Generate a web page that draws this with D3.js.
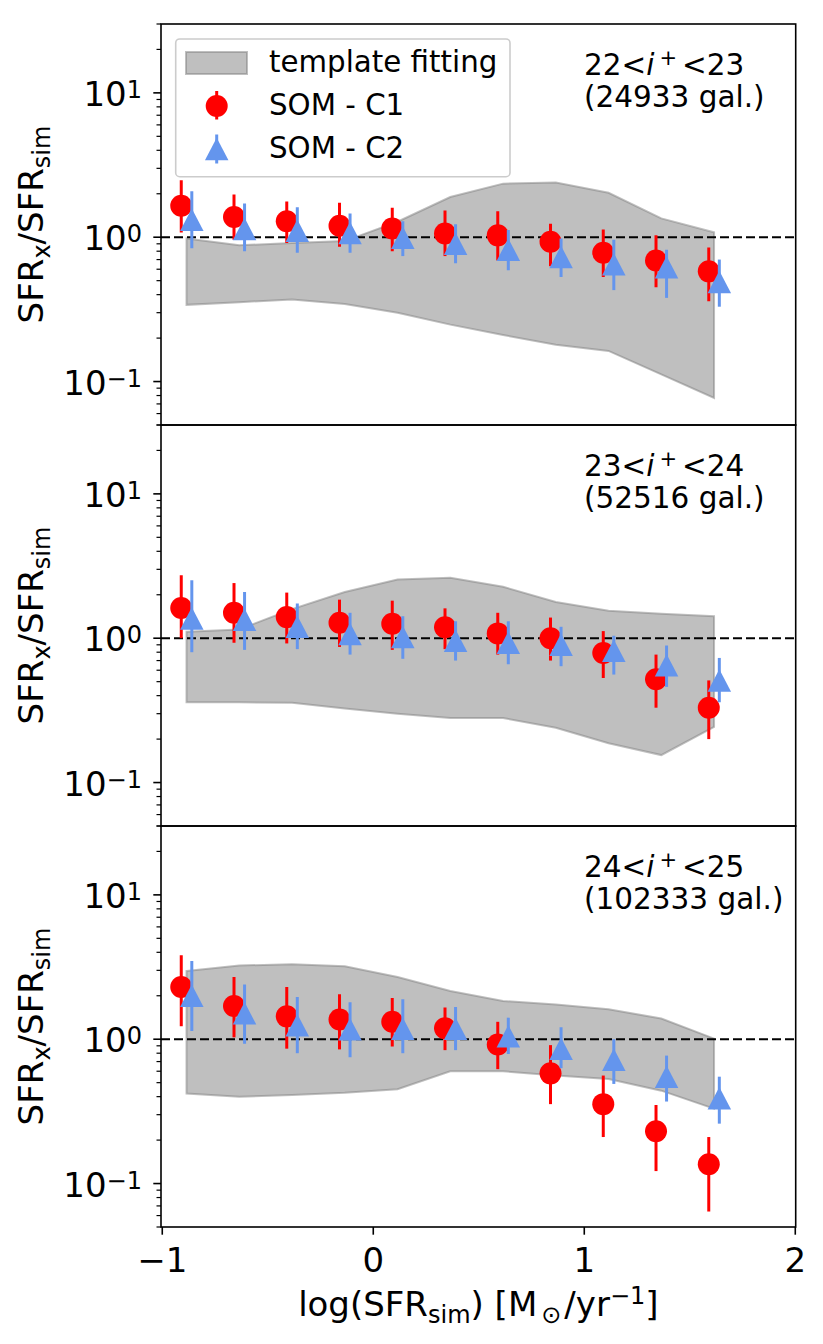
<!DOCTYPE html>
<html>
<head>
<meta charset="utf-8">
<script src="https://cdn.jsdelivr.net/npm/d3@7"></script>
<style>
  html, body { margin: 0; padding: 0; background: #fff; }
  svg { display: block; font-family: "DejaVu Sans", sans-serif; }
</style>
</head>
<body>
<svg id="chart" width="823" height="1344"></svg>
<script>
// ---------------- DATA ----------------
const magLo = [22, 23, 24];
const magHi = [23, 24, 25];
const galCounts = ["(24933 gal.)", "(52516 gal.)", "(102333 gal.)"];

const xC1   = [-0.91, -0.66, -0.41, -0.16, 0.09, 0.34, 0.59, 0.84, 1.09, 1.34, 1.59];
const xC2   = [-0.86, -0.61, -0.36, -0.11, 0.14, 0.39, 0.64, 0.89, 1.14, 1.39, 1.64];
const xBand = [-0.885, -0.635, -0.385, -0.135, 0.115, 0.365, 0.615, 0.865, 1.115, 1.365, 1.615];

// SOM - C1 (per panel): median, lower and upper error
const c1Mid = [
  [1.65, 1.38, 1.29, 1.20, 1.15, 1.06, 1.03, 0.93, 0.78, 0.69, 0.58],
  [1.62, 1.50, 1.40, 1.28, 1.26, 1.19, 1.08, 1.00, 0.79, 0.52, 0.33],
  [2.30, 1.70, 1.44, 1.37, 1.32, 1.19, 0.92, 0.58, 0.355, 0.23, 0.136]
];
const c1Lo = [
  [1.08, 0.96, 0.91, 0.86, 0.80, 0.74, 0.69, 0.63, 0.53, 0.45, 0.36],
  [1.00, 0.93, 0.92, 0.87, 0.83, 0.84, 0.77, 0.70, 0.53, 0.33, 0.20],
  [1.23, 1.03, 0.86, 0.85, 0.89, 0.84, 0.62, 0.355, 0.21, 0.122, 0.064]
];
const c1Hi = [
  [2.48, 1.98, 1.77, 1.73, 1.60, 1.53, 1.51, 1.24, 1.13, 1.03, 0.85],
  [2.73, 2.41, 2.07, 1.85, 1.82, 1.61, 1.50, 1.39, 1.12, 0.77, 0.51],
  [3.82, 2.70, 2.30, 2.05, 1.93, 1.66, 1.32, 0.91, 0.56, 0.35, 0.21]
];

// SOM - C2
const c2Mid = [
  [1.32, 1.14, 1.11, 1.07, 0.99, 0.90, 0.82, 0.73, 0.65, 0.62, 0.49],
  [1.37, 1.34, 1.20, 1.07, 1.02, 0.96, 0.93, 0.90, 0.82, 0.65, 0.51],
  [2.00, 1.51, 1.25, 1.17, 1.18, 1.18, 1.05, 0.86, 0.72, 0.55, 0.39]
];
const c2Lo = [
  [0.84, 0.80, 0.78, 0.78, 0.74, 0.66, 0.59, 0.53, 0.43, 0.38, 0.33],
  [0.80, 0.83, 0.84, 0.77, 0.72, 0.70, 0.66, 0.64, 0.56, 0.46, 0.36],
  [1.14, 0.93, 0.80, 0.75, 0.80, 0.84, 0.79, 0.63, 0.49, 0.37, 0.26]
];
const c2Hi = [
  [2.08, 1.71, 1.61, 1.46, 1.29, 1.23, 1.12, 0.98, 0.96, 0.82, 0.70],
  [2.52, 2.09, 1.74, 1.50, 1.42, 1.31, 1.31, 1.20, 1.04, 0.89, 0.73],
  [3.48, 2.39, 1.96, 1.80, 1.89, 1.67, 1.41, 1.21, 1.00, 0.77, 0.55]
];

// template fitting band
const bandUpper = [
  [0.98, 0.88, 0.91, 0.94, 1.28, 1.90, 2.35, 2.39, 2.03, 1.35, 1.08],
  [1.11, 1.15, 1.59, 2.09, 2.55, 2.62, 2.27, 1.78, 1.55, 1.48, 1.42],
  [2.97, 3.24, 3.31, 3.20, 2.70, 2.16, 1.84, 1.74, 1.61, 1.39, 1.01]
];
const bandLower = [
  [0.34, 0.355, 0.37, 0.345, 0.30, 0.248, 0.21, 0.18, 0.163, 0.112, 0.077],
  [0.36, 0.36, 0.357, 0.326, 0.30, 0.28, 0.28, 0.24, 0.187, 0.155, 0.243],
  [0.42, 0.40, 0.41, 0.425, 0.45, 0.60, 0.60, 0.56, 0.53, 0.44, 0.33]
];

const xTicks = [-1, 0, 1, 2];
const xTickLabels = ["\u22121", "0", "1", "2"];
const yMajorTicks = [0.1, 1, 10];
const yMajorExp = ["\u22121", "0", "1"];
const yMinorTicks = [0.05, 0.06, 0.07, 0.08, 0.09, 0.2, 0.3, 0.4, 0.5, 0.6, 0.7, 0.8, 0.9,
                     2, 3, 4, 5, 6, 7, 8, 9, 20, 30];
const yDomain = [0.05, 30];
const xDomain = [-1.006, 2.002];
const legendLabels = ["template fitting", "SOM - C1", "SOM - C2"];

// ---------------- LAYOUT ----------------
const svg = d3.select("#chart");
const left = 161, right = 795.7;
const panelTop = [24, 425, 826];
const panelH = 401;
const RED = "#ff0000", BLUE = "#6495ed", GRAY = "#808080";
const FS_TICK = 34, FS_LAB = 34, FS_ANN = 29.5, FS_LEG = 29.3;

const x = d3.scaleLinear().domain(xDomain).range([left, right]);

function triPath(w, h) {
  return `M0,${-h / 2}L${w / 2},${h / 2}L${-w / 2},${h / 2}Z`;
}

panelTop.forEach((top, p) => {
  const y = d3.scaleLog().domain(yDomain).range([top + panelH, top]);
  const g = svg.append("g");
  const clipId = "clip" + p;
  svg.append("clipPath").attr("id", clipId)
    .append("rect").attr("x", left).attr("y", top).attr("width", right - left).attr("height", panelH);
  const plot = g.append("g").attr("clip-path", `url(#${clipId})`);

  // band
  const bandData = xBand.map((xv, i) => ({ x: xv, lo: bandLower[p][i], hi: bandUpper[p][i] }));
  const area = d3.area().x(d => x(d.x)).y0(d => y(d.lo)).y1(d => y(d.hi));
  plot.append("path").attr("d", area(bandData))
    .attr("fill", GRAY).attr("fill-opacity", 0.5)
    .attr("stroke", GRAY).attr("stroke-opacity", 0.5).attr("stroke-width", 2);

  // dashed unity line
  plot.append("line")
    .attr("x1", left).attr("x2", right).attr("y1", y(1)).attr("y2", y(1))
    .attr("stroke", "#000").attr("stroke-width", 2).attr("stroke-dasharray", "9,4");

  // C1
  const c1 = xC1.map((xv, i) => ({ x: xv, m: c1Mid[p][i], lo: c1Lo[p][i], hi: c1Hi[p][i] }));
  plot.selectAll(".e1").data(c1).enter().append("line")
    .attr("x1", d => x(d.x)).attr("x2", d => x(d.x))
    .attr("y1", d => y(d.lo)).attr("y2", d => y(d.hi))
    .attr("stroke", RED).attr("stroke-width", 3);
  plot.selectAll(".m1").data(c1).enter().append("circle")
    .attr("cx", d => x(d.x)).attr("cy", d => y(d.m)).attr("r", 11).attr("fill", RED);

  // C2
  const c2 = xC2.map((xv, i) => ({ x: xv, m: c2Mid[p][i], lo: c2Lo[p][i], hi: c2Hi[p][i] }));
  plot.selectAll(".e2").data(c2).enter().append("line")
    .attr("x1", d => x(d.x)).attr("x2", d => x(d.x))
    .attr("y1", d => y(d.lo)).attr("y2", d => y(d.hi))
    .attr("stroke", BLUE).attr("stroke-width", 3);
  plot.selectAll(".m2").data(c2).enter().append("path")
    .attr("d", triPath(23.5, 22.5))
    .attr("transform", d => `translate(${x(d.x)},${y(d.m)})`)
    .attr("fill", BLUE);

  // frame
  g.append("rect").attr("x", left).attr("y", top).attr("width", right - left).attr("height", panelH)
    .attr("fill", "none").attr("stroke", "#000").attr("stroke-width", 1.6);

  // y ticks
  yMinorTicks.forEach(v => {
    g.append("line").attr("x1", left - 4.5).attr("x2", left).attr("y1", y(v)).attr("y2", y(v))
      .attr("stroke", "#000").attr("stroke-width", 1.2);
  });
  yMajorTicks.forEach((v, i) => {
    g.append("line").attr("x1", left - 7.7).attr("x2", left).attr("y1", y(v)).attr("y2", y(v))
      .attr("stroke", "#000").attr("stroke-width", 1.6);
    const t = g.append("text").attr("x", 142).attr("y", y(v) + 13)
      .attr("text-anchor", "end").attr("font-size", FS_TICK).attr("fill", "#000");
    t.append("tspan").text("10");
    t.append("tspan").attr("font-size", 24).attr("dy", -8).text(yMajorExp[i]);
  });

  // y label
  const yl = g.append("text")
    .attr("transform", `translate(43,${top + panelH / 2}) rotate(-90)`)
    .attr("text-anchor", "middle").attr("font-size", FS_LAB).attr("fill", "#000");
  yl.append("tspan").text("SFR");
  yl.append("tspan").attr("font-size", 24).attr("dy", 7).text("x");
  yl.append("tspan").attr("dy", -7).text("/SFR");
  yl.append("tspan").attr("font-size", 24).attr("dy", 7).text("sim");

  // annotation
  const a1 = g.append("text").attr("x", 584).attr("y", top + 51)
    .attr("font-size", FS_ANN).attr("fill", "#000");
  a1.append("tspan").text(magLo[p] + "<");
  a1.append("tspan").attr("font-style", "italic").text("i");
  a1.append("tspan").attr("font-size", 21).attr("dy", -10).attr("dx", 5).text("+");
  a1.append("tspan").attr("dy", 10).attr("dx", 5).text("<" + magHi[p]);
  g.append("text").attr("x", 584).attr("y", top + 83)
    .attr("font-size", FS_ANN).attr("fill", "#000").text(galCounts[p]);

  // x axis ticks only on the last panel
  if (p === panelTop.length - 1) {
    const bottom = top + panelH;
    xTicks.forEach((v, i) => {
      g.append("line").attr("x1", x(v)).attr("x2", x(v)).attr("y1", bottom).attr("y2", bottom + 7.7)
        .attr("stroke", "#000").attr("stroke-width", 1.6);
      g.append("text").attr("x", x(v)).attr("y", bottom + 45)
        .attr("text-anchor", "middle").attr("font-size", FS_TICK).attr("fill", "#000")
        .text(xTickLabels[i]);
    });
    const xl = g.append("text").attr("x", (left + right) / 2).attr("y", 1316)
      .attr("text-anchor", "middle").attr("font-size", FS_LAB).attr("fill", "#000");
    xl.append("tspan").text("log(SFR");
    xl.append("tspan").attr("font-size", 24).attr("dy", 7).text("sim");
    xl.append("tspan").attr("dy", -7).text(") [M");
    xl.append("tspan").attr("font-size", 24).attr("dy", 7).attr("dx", 4).text("\u2299");
    xl.append("tspan").attr("dy", -7).attr("dx", 3).text("/yr");
    xl.append("tspan").attr("font-size", 24).attr("dy", -12).text("\u22121");
    xl.append("tspan").attr("dy", 12).text("]");
  }

  // legend in first panel
  if (p === 0) {
    const lg = g.append("g");
    lg.append("rect").attr("x", 175.7).attr("y", 39).attr("width", 334.3).attr("height", 137.7)
      .attr("rx", 4).attr("fill", "#fff").attr("fill-opacity", 0.8)
      .attr("stroke", "#cccccc").attr("stroke-width", 1.6);
    lg.append("rect").attr("x", 186).attr("y", 52).attr("width", 61).attr("height", 22)
      .attr("fill", GRAY).attr("fill-opacity", 0.5)
      .attr("stroke", GRAY).attr("stroke-opacity", 0.5).attr("stroke-width", 2);
    lg.append("line").attr("x1", 216.7).attr("x2", 216.7).attr("y1", 91).attr("y2", 119.5)
      .attr("stroke", RED).attr("stroke-width", 3);
    lg.append("circle").attr("cx", 216.7).attr("cy", 106).attr("r", 11).attr("fill", RED);
    lg.append("line").attr("x1", 216.7).attr("x2", 216.7).attr("y1", 134.5).attr("y2", 163.5)
      .attr("stroke", BLUE).attr("stroke-width", 3);
    lg.append("path").attr("d", triPath(23.5, 22.5)).attr("transform", "translate(216.7,149)").attr("fill", BLUE);
    const baselines = [71.7, 115, 158.3];
    legendLabels.forEach((t, i) => {
      lg.append("text").attr("x", 269).attr("y", baselines[i]).attr("font-size", FS_LEG)
        .attr("fill", "#000").text(t);
    });
  }
});
</script>
</body>
</html>
